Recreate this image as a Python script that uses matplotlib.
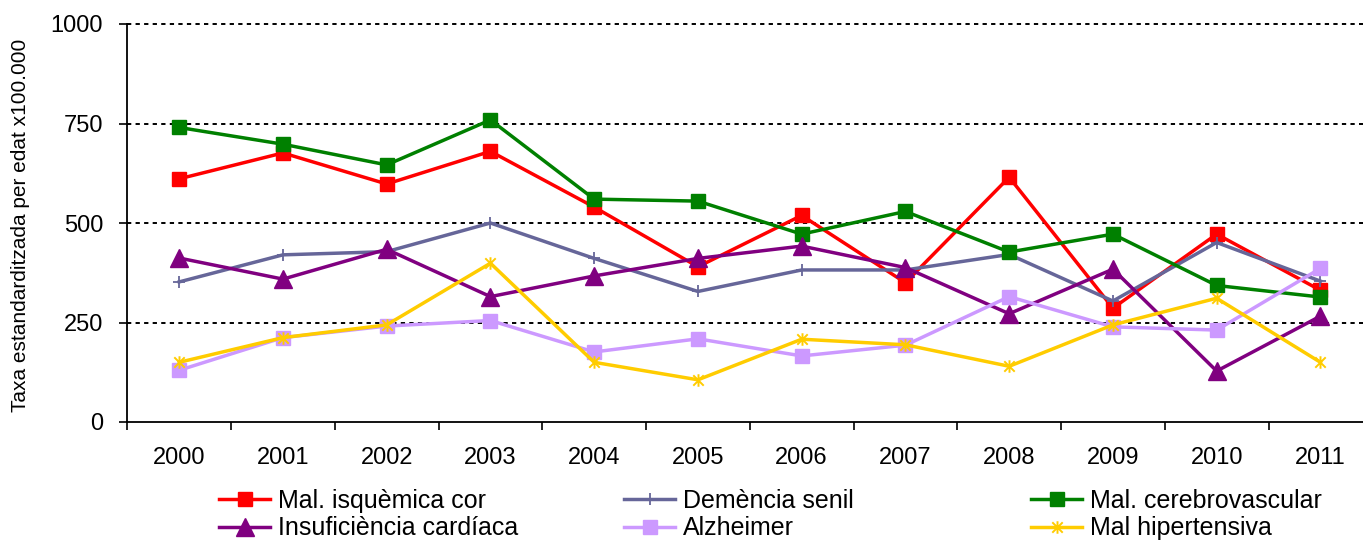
import numpy as np
import matplotlib; matplotlib.use("Agg")
import matplotlib.pyplot as plt
from matplotlib.path import Path

plt.rcParams["font.family"] = ["Liberation Sans", "DejaVu Sans"]

years = ["2000", "2001", "2002", "2003", "2004", "2005",
         "2006", "2007", "2008", "2009", "2010", "2011"]
isquemica = [611, 676, 598, 680, 540, 390, 519, 350, 615, 286, 472, 331]
demencia = [352, 420, 428, 500, 411, 328, 382, 382, 421, 304, 451, 354]
cerebro = [740, 698, 646, 759, 560, 555, 472, 529, 427, 472, 343, 314]
insuf = [412, 359, 434, 315, 367, 411, 442, 388, 272, 384, 128, 266]
alzheimer = [130, 212, 241, 255, 176, 209, 166, 193, 315, 239, 231, 386]
hipert = [150, 212, 244, 399, 150, 106, 208, 194, 140, 244, 311, 150]

# excel-style asterisk: an x with a vertical stroke
M, L = Path.MOVETO, Path.LINETO
asterisk = Path([(-1, -1), (1, 1), (-1, 1), (1, -1), (0, -1.2), (0, 1.2)],
                [M, L, M, L, M, L])

series = [
    ("Mal. isquèmica cor", isquemica, "#FF0000", "s", 9.8, 1),
    ("Demència senil", demencia, "#666699", "+", 9, 1.3),
    ("Mal. cerebrovascular", cerebro, "#008000", "s", 9.8, 1),
    ("Insuficiència cardíaca", insuf, "#800080", "^", 12.5, 1),
    ("Alzheimer", alzheimer, "#CC99FF", "s", 9.8, 1),
    ("Mal hipertensiva", hipert, "#FFCC00", asterisk, 9, 1.4),
]

fig = plt.figure(figsize=(13.63, 5.43), dpi=100)
ax = fig.add_axes([127.3 / 1363, 1 - 422 / 543, 1245 / 1363, 398 / 543])

x = np.arange(len(years))
handles = []
for name, vals, c, mk, ms, mew in series:
    h, = ax.plot(x, vals, color=c, lw=2.5, marker=mk, ms=ms, mfc=c, mec=c,
                 mew=mew, label=name, clip_on=False)
    handles.append(h)

ax.set_xlim(-0.5, 11.5)
ax.set_ylim(0, 1000)
ax.set_yticks([0, 250, 500, 750, 1000])
for v in [250, 500, 750, 1000]:
    ax.axhline(v, color="black", lw=1.4, ls=(0, (2.2, 2.2)), zorder=0.5, clip_on=False)

ax.set_xticks(x)
ax.set_xticklabels(years)
ax.set_xticks(np.arange(-0.5, 11.5, 1.0), minor=True)
ax.tick_params(axis="x", which="major", length=0, pad=18, labelsize=17)
ax.tick_params(axis="x", which="minor", length=5.5, width=1.2, direction="out")
ax.tick_params(axis="y", length=5.5, width=1.2, direction="out", pad=12, labelsize=17)

for s in ["right", "top"]:
    ax.spines[s].set_visible(False)
ax.spines["left"].set_linewidth(1.3)
ax.spines["bottom"].set_linewidth(1.3)

fig.text(21 / 1363, 1 - 225 / 543, "Taxa estandarditzada per edat x100.000",
         rotation=90, ha="center", va="center", fontsize=15)

# three legend columns, each with two rows
cols = [(219, [0, 3]), (624, [1, 4]), (1031, [2, 5])]
for xpix, idx in cols:
    fig.legend([handles[i] for i in idx], [series[i][0] for i in idx],
               loc="center left", bbox_to_anchor=(xpix / 1363, 1 - 514.5 / 543),
               frameon=False, fontsize=18, handlelength=2.05, handletextpad=0.3,
               labelspacing=0.15, borderpad=0, borderaxespad=0)

fig.savefig("out.png", dpi=100)
